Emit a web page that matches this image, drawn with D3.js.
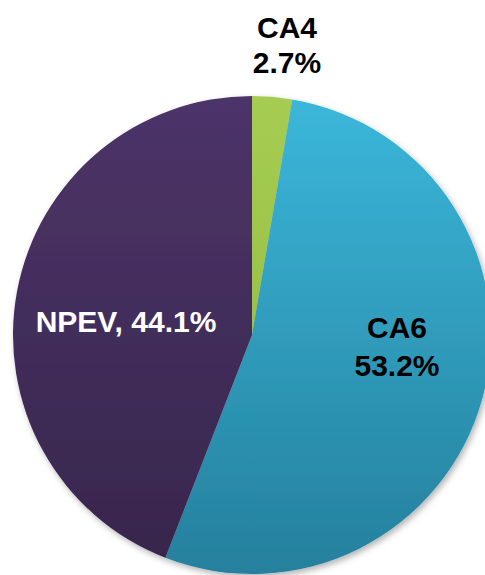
<!DOCTYPE html>
<html><head><meta charset="utf-8">
<script src="https://cdn.jsdelivr.net/npm/d3@7/dist/d3.min.js"></script>
<style>body{margin:0;background:#fff;overflow:hidden}svg{display:block}text{font-family:"Liberation Sans",Arial,sans-serif;font-weight:bold}</style>
</head><body>
<script>
const categories = ["CA4", "CA6", "NPEV"];
const values = [2.7, 53.2, 44.1];
const labelLines = [["CA4", "2.7%"], ["CA6", "53.2%"], ["NPEV, 44.1%"]];
const colorsTop = ["#a6cc52", "#3bb7da", "#4c3468"];
const colorsBottom = ["#8fb83e", "#25809d", "#37264c"];
const labelColors = ["#000", "#000", "#fff"];

const W = 485, H = 575, cx = 252, cy = 335, r = 239;
const svg = d3.select("body").append("svg").attr("width", W).attr("height", H);
const defs = svg.append("defs");
const f = defs.append("filter").attr("id", "sh").attr("x", "-10%").attr("y", "-10%").attr("width", "130%").attr("height", "130%");
f.append("feDropShadow").attr("dx", 2).attr("dy", 3).attr("stdDeviation", 3).attr("flood-color", "#000").attr("flood-opacity", 0.3);
categories.forEach((c, i) => {
  const g = defs.append("linearGradient").attr("id", "g" + i)
    .attr("gradientUnits", "userSpaceOnUse").attr("x1", 0).attr("y1", -r).attr("x2", 0).attr("y2", r);
  g.append("stop").attr("offset", 0).attr("stop-color", colorsTop[i]);
  g.append("stop").attr("offset", 1).attr("stop-color", colorsBottom[i]);
});
const data = categories.map((c, i) => ({c, v: values[i], i}));
const pie = d3.pie().value(d => d.v).sort(null);
const arc = d3.arc().innerRadius(0).outerRadius(r);
const g = svg.append("g").attr("transform", `translate(${cx},${cy})`);
g.append("g").attr("filter", "url(#sh)").selectAll("path").data(pie(data)).join("path")
  .attr("d", arc).attr("fill", d => `url(#g${d.data.i})`);

const labelPos = [[287, 38, 35], [397, 338, 38], [126, 332, 0]];
labelLines.forEach((lines, i) => {
  const t = svg.append("text").attr("text-anchor", "middle").attr("font-size", 30).attr("fill", labelColors[i]);
  lines.forEach((l, k) => t.append("tspan").attr("x", labelPos[i][0]).attr("y", labelPos[i][1] + k * labelPos[i][2]).text(l));
});
</script>
</body></html>
